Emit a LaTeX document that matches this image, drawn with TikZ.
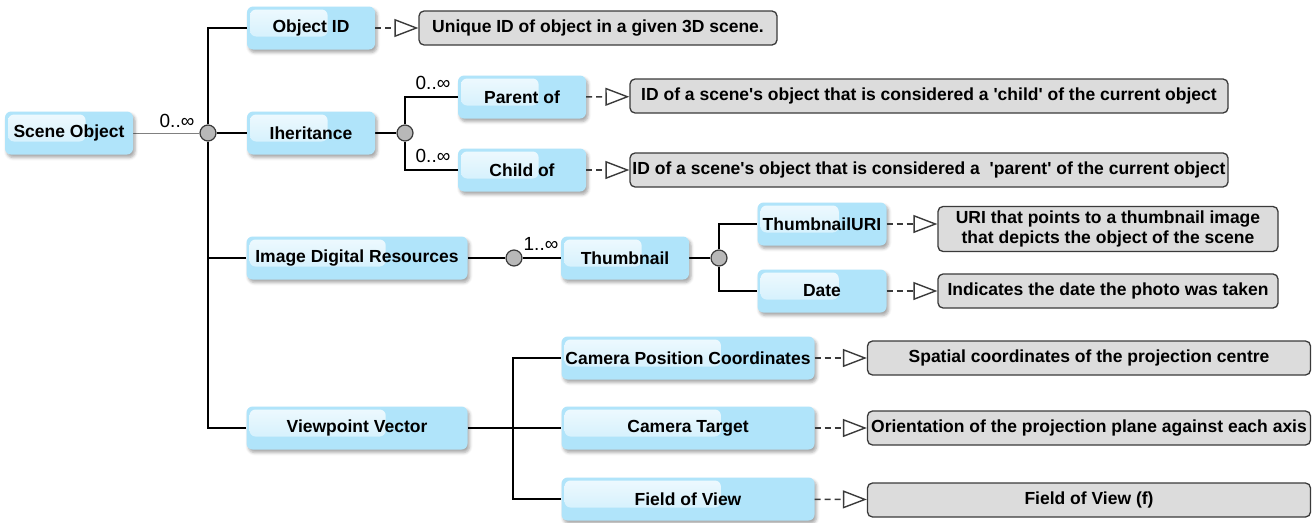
\documentclass[tikz,border=0pt]{standalone}
\usepackage{fontspec}
\setmainfont{Liberation Sans}[Ligatures=TeXOff]
\usetikzlibrary{arrows.meta,positioning,calc,backgrounds,shadows.blur}
\definecolor{boxblue}{HTML}{B0E4FA}
\definecolor{boxgray}{HTML}{DCDCDC}
\definecolor{edgegray}{HTML}{3A3A3A}
\definecolor{dotgray}{HTML}{B8B8B8}

\begin{document}
\begin{tikzpicture}[x=1pt, y=-1pt,
  concept/.style={fill=boxblue, rounded corners=6pt, minimum height=43pt, inner sep=2pt,
    font=\bfseries\fontsize{17.5}{20}\selectfont,
    blur shadow={shadow xshift=2pt, shadow yshift=-3pt, shadow blur radius=3pt, shadow opacity=35},
    path picture={\shade[top color=white!80!boxblue, bottom color=white!35!boxblue, rounded corners=6pt]
      ([shift={(3pt,-3pt)}]path picture bounding box.north west) rectangle
      ($(path picture bounding box.north west)!.63!(path picture bounding box.north east)+(0,-30pt)$);}},
  note/.style={fill=boxgray, draw=edgegray, line width=1.3pt, rounded corners=5pt, minimum height=34pt,
    inner sep=2pt, align=center, font=\bfseries\fontsize{17.5}{20}\selectfont},
  link/.style={line width=2.6pt},
  dashlink/.style={draw=edgegray, line width=1.4pt, dash pattern=on 6pt off 4pt,
    -{Triangle[open, length=24pt, width=18pt, line width=1.4pt]}},
  joint/.style={circle, fill=dotgray, draw=edgegray, line width=1.2pt, minimum size=16pt, inner sep=0pt},
  card/.style={font=\fontsize{19}{20}\selectfont, inner sep=0pt}]
\useasboundingbox (0,0) rectangle (1313,522);

% concepts
\node[concept, minimum width=128pt] (so) at (69,133) {Scene Object};
\node[concept, minimum width=128pt] (oid) at (311,28) {Object ID};
\node[concept, minimum width=128pt] (inh) at (311,133) {Iheritance};
\node[concept, minimum width=221pt] (idr) at (357,258) {Image Digital Resources};
\node[concept, minimum width=221pt] (vv) at (357,428) {Viewpoint Vector};
\node[concept, minimum width=128pt] (par) at (522,97) {Parent of};
\node[concept, minimum width=128pt] (chi) at (522,170) {Child of};
\node[concept, minimum width=128pt] (thu) at (625,258) {Thumbnail};
\node[concept, minimum width=129pt] (uri) at (822,224) {ThumbnailURI};
\node[concept, minimum width=129pt] (dat) at (822,291) {Date};
\node[concept, minimum width=253pt] (cpc) at (688,358) {Camera Position Coordinates};
\node[concept, minimum width=253pt] (ctg) at (688,428) {Camera Target};
\node[concept, minimum width=253pt] (fov) at (688,499) {Field of View};

% notes
\node[note, minimum width=358pt] (oidd) at (598,28) {Unique ID of object in a given 3D scene.};
\node[note, minimum width=598pt] (pard) at (929,96) {ID of a scene's object that is considered a 'child' of the current object};
\node[note, minimum width=598pt] (chid) at (929,170) {ID of a scene's object that is considered a \ 'parent' of the current object};
\node[note, minimum width=340pt, minimum height=45pt] (urid) at (1108,229) {URI that points to a thumbnail image\\that depicts the object of the scene};
\node[note, minimum width=340pt] (datd) at (1108,291) {Indicates the date the photo was taken};
\node[note, minimum width=443pt] (cpcd) at (1089,358) {Spatial coordinates of the projection centre};
\node[note, minimum width=443pt] (ctgd) at (1089,428) {Orientation of the projection plane against each axis};
\node[note, minimum width=443pt] (fovd) at (1089,500) {Field of View (f)};

% joints
\node[joint] (j1) at (208,133) {};
\node[joint] (j2) at (405,133) {};
\node[joint] (j3) at (514,258) {};
\node[joint] (j4) at (719,258) {};
\coordinate (b) at (513,428);

% cardinalities
\node[card] (c1) at (177,121) {0..∞};
\node[card] (c2) at (433,83) {0..∞};
\node[card] (c3) at (433,156) {0..∞};
\node[card] (c4) at (541,244) {1..∞};

\begin{scope}[on background layer]
\draw[gray, line width=1pt] (so) -- (j1);
\draw[link] (j1) |- (oid);
\draw[link] (j1) -- (inh);
\draw[link] (j1) |- (idr);
\draw[link] (j1) |- (vv);
\draw[link] (inh) -- (j2);
\draw[link] (j2) |- (par);
\draw[link] (j2) |- (chi);
\draw[link] (idr) -- (j3) -- (thu);
\draw[link] (thu) -- (j4);
\draw[link] (j4) |- (uri);
\draw[link] (j4) |- (dat);
\draw[link] (vv) -- (ctg);
\draw[link] (b) |- (cpc);
\draw[link] (b) |- (fov);
\end{scope}

% descriptions
\draw[dashlink] (oid) -- (oidd);
\draw[dashlink] (par) -- (pard);
\draw[dashlink] (chi) -- (chid);
\draw[dashlink] (uri.east) -- (uri.east -| urid.west);
\draw[dashlink] (dat) -- (datd);
\draw[dashlink] (cpc) -- (cpcd);
\draw[dashlink] (ctg) -- (ctgd);
\draw[dashlink] (fov) -- (fovd);
\end{tikzpicture}
\end{document}
